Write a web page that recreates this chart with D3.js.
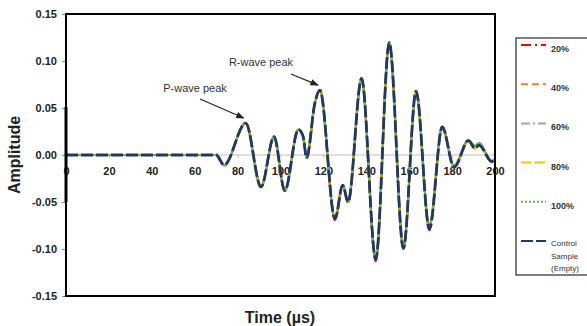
<!DOCTYPE html>
<html>
<head>
<meta charset="utf-8">
<script src="https://cdn.jsdelivr.net/npm/d3@7"></script>
<style>
  body { margin: 0; background: #fff; }
  svg { display: block; font-family: "Liberation Sans", Arial, sans-serif; }
</style>
</head>
<body>
<script>
// time points (µs) where the waveform turns
var times = [0, 70, 73.7, 83.8, 90.9, 97, 102, 108.3, 110.5, 112.2, 116, 118.4, 125.4, 129, 131.5,
  137.8, 144.4, 150.7, 157.3, 163.2, 169.4, 175.4, 180.9, 187.6, 190.7, 192.5, 198.5, 200];

var amp20 = [0, 0, -0.011, 0.034, -0.034, 0.0195, -0.038, 0.027, 0.02, -0.003, 0.055, 0.069, -0.069, -0.032, -0.05,
  0.0815, -0.113, 0.1195, -0.100, 0.068, -0.080, 0.030, -0.013, 0.015, 0.007, 0.0106, -0.007, -0.005];
var amp40 = [0, 0, -0.011, 0.034, -0.034, 0.0195, -0.038, 0.027, 0.02, -0.003, 0.055, 0.069, -0.068, -0.032, -0.05,
  0.0815, -0.111, 0.1195, -0.099, 0.068, -0.079, 0.030, -0.013, 0.015, 0.007, 0.0106, -0.007, -0.005];
var amp60 = [0, 0, -0.011, 0.034, -0.034, 0.0195, -0.038, 0.027, 0.02, -0.003, 0.055, 0.069, -0.068, -0.032, -0.05,
  0.0815, -0.111, 0.1195, -0.099, 0.068, -0.078, 0.030, -0.013, 0.0155, 0.0075, 0.0108, -0.007, -0.005];
var amp80 = [0, 0, -0.011, 0.034, -0.034, 0.0195, -0.038, 0.027, 0.02, -0.003, 0.055, 0.069, -0.068, -0.032, -0.05,
  0.0815, -0.110, 0.1195, -0.098, 0.068, -0.077, 0.030, -0.013, 0.015, 0.007, 0.0106, -0.007, -0.005];
var amp100 = [0, 0, -0.011, 0.034, -0.034, 0.0195, -0.038, 0.027, 0.02, -0.003, 0.055, 0.069, -0.068, -0.032, -0.05,
  0.0815, -0.111, 0.1195, -0.099, 0.066, -0.075, 0.029, -0.011, 0.016, 0.010, 0.013, -0.006, -0.004];
var ampControl = [0, 0, -0.0106, 0.034, -0.034, 0.0195, -0.038, 0.027, 0.02, -0.003, 0.055, 0.069, -0.068, -0.032, -0.05,
  0.0815, -0.111, 0.1195, -0.0993, 0.068, -0.079, 0.030, -0.013, 0.0152, 0.007, 0.0106, -0.007, -0.005];

var seriesNames = ["20%", "40%", "60%", "80%", "100%", "Control Sample (Empty)"];
var seriesColors = ["#ff0000", "#ed7d31", "#a5a5a5", "#ffc000", "#70ad47", "#1f3864"];
var seriesDash = ["10,4,2,4", "7,4", "9,3,2,3", "10,4", "2,2", "12,3"];
var seriesValues = [amp20, amp40, amp60, amp80, amp100, ampControl];

var xTicks = [0, 20, 40, 60, 80, 100, 120, 140, 160, 180, 200];
var yTicks = [-0.15, -0.10, -0.05, 0, 0.05, 0.10, 0.15];

// odd thick mark on the y axis at t = 0
var startMark = [0.051, -0.05];

var annotations = [
  {text: "P-wave peak", t: 83.8, a: 0.034, tx: 195, ty: 92, ax: 200, ay: 99},
  {text: "R-wave peak", t: 118.4, a: 0.069, tx: 261, ty: 66, ax: 291, ay: 74}
];

var width = 587, height = 326;
var pL = 66, pR = 495, pT = 14, pB = 296;

var svg = d3.select("body").append("svg")
    .attr("width", width)
    .attr("height", height);

var x = d3.scaleLinear().domain([0, 200]).range([pL, pR]);
var y = d3.scaleLinear().domain([-0.15, 0.15]).range([pB, pT]);

svg.append("defs").append("marker")
    .attr("id", "arr")
    .attr("viewBox", "0 0 10 10")
    .attr("refX", 9).attr("refY", 5)
    .attr("markerWidth", 7).attr("markerHeight", 7)
    .attr("orient", "auto")
  .append("path")
    .attr("d", "M0,1 L10,5 L0,9 Z")
    .attr("fill", "#222");

// zero line
svg.append("line")
    .attr("x1", pL).attr("x2", pR)
    .attr("y1", y(0)).attr("y2", y(0))
    .attr("stroke", "#bfbfbf").attr("stroke-width", 1);

// y axis ticks + labels
var yAxis = svg.append("g")
    .attr("transform", "translate(" + pL + ",0)")
    .call(d3.axisLeft(y).tickValues(yTicks).tickSize(4).tickPadding(5));
yAxis.select(".domain").remove();
yAxis.selectAll("line").attr("stroke", "#888");
yAxis.selectAll("text")
    .attr("font-size", 11).attr("font-weight", "bold").attr("fill", "#222")
    .attr("font-family", "Liberation Sans, Arial, sans-serif")
    .text(function(d) { return d3.format(".2f")(d).replace("−", "-"); });

// x axis on zero line
var xAxis = svg.append("g")
    .attr("transform", "translate(0," + y(0) + ")")
    .call(d3.axisBottom(x).tickValues(xTicks).tickSize(3).tickPadding(9));
xAxis.select(".domain").remove();
xAxis.selectAll("line").attr("stroke", "#bfbfbf");
xAxis.selectAll("text")
    .attr("font-size", 11).attr("font-weight", "bold").attr("fill", "#222")
    .attr("font-family", "Liberation Sans, Arial, sans-serif");

var line = d3.line()
    .x(function(d) { return x(d[0]); })
    .y(function(d) { return y(d[1]); })
    .curve(d3.curveMonotoneX);

seriesValues.forEach(function(vals, i) {
  var pts = times.map(function(t, j) { return [t, vals[j]]; });
  svg.append("path")
      .datum(pts)
      .attr("d", line)
      .attr("fill", "none")
      .attr("stroke", seriesColors[i])
      .attr("stroke-width", i == 5 ? 2.8 : 2.2)
      .attr("stroke-dasharray", seriesDash[i])
      .attr("stroke-linecap", i == 4 ? "round" : "butt");
});

svg.append("line")
    .attr("x1", x(0)).attr("x2", x(0))
    .attr("y1", y(startMark[0])).attr("y2", y(startMark[1]))
    .attr("stroke", "#000").attr("stroke-width", 3);

// frame
svg.append("rect")
    .attr("x", pL).attr("y", pT)
    .attr("width", pR - pL).attr("height", pB - pT)
    .attr("fill", "none").attr("stroke", "#000").attr("stroke-width", 2);

// annotations
annotations.forEach(function(a) {
  svg.append("text")
      .attr("x", a.tx).attr("y", a.ty)
      .attr("text-anchor", "middle")
      .attr("font-size", 11).attr("fill", "#333")
      .text(a.text);
  svg.append("line")
      .attr("x1", a.ax).attr("y1", a.ay)
      .attr("x2", x(a.t) - 2).attr("y2", y(a.a) - 5)
      .attr("stroke", "#222").attr("stroke-width", 1.2)
      .attr("marker-end", "url(#arr)");
});

// axis titles
svg.append("text")
    .attr("transform", "translate(20," + y(0) + ") rotate(-90)")
    .attr("text-anchor", "middle")
    .attr("font-size", 16).attr("font-weight", "bold").attr("fill", "#222")
    .text("Amplitude");

svg.append("text")
    .attr("x", 280).attr("y", 323)
    .attr("text-anchor", "middle")
    .attr("font-size", 16).attr("font-weight", "bold").attr("fill", "#222")
    .text("Time (µs)");

// legend
var lg = svg.append("g");
lg.append("rect")
    .attr("x", 516).attr("y", 38)
    .attr("width", 75).attr("height", 237)
    .attr("fill", "#fff").attr("stroke", "#000").attr("stroke-width", 1);

var legY = d3.scalePoint().domain(seriesNames).range([45, 241]);
seriesNames.forEach(function(n, i) {
  var yy = legY(n);
  lg.append("line")
      .attr("x1", 521).attr("x2", 546)
      .attr("y1", yy).attr("y2", yy)
      .attr("stroke", seriesColors[i]).attr("stroke-width", 2)
      .attr("stroke-dasharray", seriesDash[i]);
  if (i < 5) {
    lg.append("text")
        .attr("x", 551).attr("y", yy + 7)
        .attr("font-size", 9).attr("font-weight", "bold").attr("fill", "#333")
        .text(n);
  } else {
    ["Control", "Sample", "(Empty)"].forEach(function(s, k) {
      lg.append("text")
          .attr("x", 551).attr("y", yy + 5 + k * 12.5)
          .attr("font-size", 8).attr("fill", "#333")
          .text(s);
    });
  }
});
</script>
</body>
</html>
